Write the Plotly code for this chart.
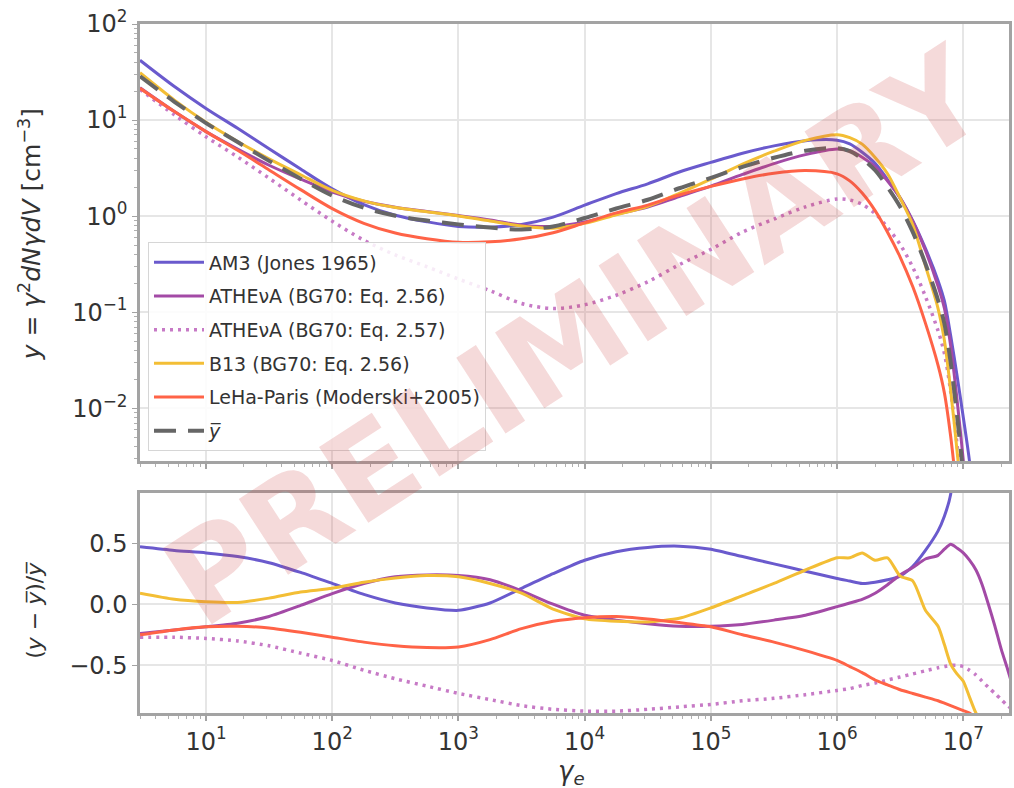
import plotly.graph_objects as go

# Lorentz factor grid shared by every curve
gamma_e = [3.0, 5.62, 10.0, 17.8, 31.6, 56.2, 100.0, 178.0, 316.0, 562.0,
           1.0e3, 1.78e3, 3.16e3, 5.62e3, 1.0e4, 1.78e4, 3.16e4, 5.62e4,
           1.0e5, 1.78e5, 3.16e5, 5.62e5, 1.0e6, 1.26e6, 1.58e6, 2.0e6,
           2.51e6, 3.16e6, 3.98e6, 5.01e6, 6.31e6, 7.08e6, 7.94e6, 8.91e6,
           1.0e7, 1.12e7, 1.26e7, 1.41e7, 1.58e7, 1.78e7, 2.0e7, 2.24e7, 2.51e7]

# mean spectrum  y_bar = gamma^2 dN/dgamma dV  [cm^-3]
y_mean = [28.5, 15.5, 9.3, 5.9, 3.76, 2.45, 1.64, 1.22, 1.01, 0.90,
          0.82, 0.76, 0.725, 0.78, 0.955, 1.2, 1.48, 1.95,
          2.5, 3.25, 4.05, 4.8, 5.1, 4.75, 3.95, 3.0,
          2.0, 1.25, 0.68, 0.32, 0.133, 0.076, 0.030, 0.0085,
          0.0020, 4e-4, 6e-5, 8e-6, 1e-6, 1e-7, 1e-8, 1e-9, 1e-10]

# relative deviations (y - y_bar) / y_bar of each code
rel_am3 = [0.47, 0.44, 0.42, 0.39, 0.34, 0.26, 0.17, 0.08, 0.01, -0.03,
           -0.05, 0.01, 0.13, 0.25, 0.36, 0.43, 0.465, 0.475,
           0.45, 0.39, 0.33, 0.27, 0.21, 0.19, 0.17, 0.18,
           0.20, 0.23, 0.31, 0.44, 0.60, 0.72, 0.90, 1.6,
           3.0, 6.0, 10.0, None, None, None, None, None, None]

rel_atheva_256 = [-0.24, -0.21, -0.185, -0.155, -0.10, -0.01, 0.087, 0.17, 0.225, 0.24,
                  0.235, 0.20, 0.11, 0.0, -0.09, -0.13, -0.16, -0.18,
                  -0.18, -0.165, -0.13, -0.09, -0.02, 0.01, 0.04, 0.09,
                  0.16, 0.24, 0.30, 0.37, 0.40, 0.45, 0.49, 0.46,
                  0.42, 0.36, 0.28, 0.16, 0.0, -0.18, -0.37, -0.53, -0.70]

rel_atheva_257 = [-0.27, -0.27, -0.28, -0.30, -0.34, -0.40, -0.46, -0.54, -0.61, -0.67,
                  -0.73, -0.78, -0.83, -0.86, -0.875, -0.875, -0.86, -0.84,
                  -0.82, -0.79, -0.77, -0.74, -0.705, -0.69, -0.665, -0.645,
                  -0.62, -0.595, -0.57, -0.545, -0.52, -0.51, -0.50, -0.50,
                  -0.51, -0.54, -0.58, -0.63, -0.68, -0.73, -0.78, -0.83, -0.87]

rel_b13 = [0.09, 0.04, 0.02, 0.015, 0.05, 0.10, 0.13, 0.18, 0.215, 0.235,
           0.225, 0.17, 0.09, -0.04, -0.12, -0.14, -0.145, -0.115,
           -0.03, 0.07, 0.17, 0.28, 0.38, 0.38, 0.42, 0.36,
           0.38, 0.23, 0.19, -0.05, -0.18, -0.33, -0.49, -0.57,
           -0.63, -0.76, -0.89, -0.95, -0.98, -0.99, -0.99, -0.99, -0.99]

rel_leha = [-0.25, -0.21, -0.185, -0.18, -0.195, -0.23, -0.27, -0.31, -0.34, -0.355,
            -0.35, -0.29, -0.20, -0.14, -0.11, -0.10, -0.12, -0.15,
            -0.185, -0.25, -0.31, -0.38, -0.46, -0.51, -0.56, -0.62,
            -0.66, -0.70, -0.73, -0.76, -0.79, -0.81, -0.83, -0.85,
            -0.87, -0.89, -0.93, -0.97, -0.99, -0.99, -0.99, -0.99, -0.99]

series_names = ["AM3 (Jones 1965)", "ATHEνA (BG70: Eq. 2.56)", "ATHEνA (BG70: Eq. 2.57)",
                "B13 (BG70: Eq. 2.56)", "LeHa-Paris (Moderski+2005)"]
mean_name = "<i>y̅</i>"

x_ticks = [10, 100, 1e3, 1e4, 1e5, 1e6, 1e7]
x_ticktext = ["10<sup>%d</sup>" % k for k in range(1, 8)]
y_ticks = [1e-2, 1e-1, 1, 10, 100]
y_ticktext = ["10<sup>−2</sup>", "10<sup>−1</sup>", "10<sup>0</sup>", "10<sup>1</sup>", "10<sup>2</sup>"]
r_ticks = [-0.5, 0.0, 0.5]
r_ticktext = ["−0.5", "0.0", "0.5"]

styles = [
    dict(color="#6a5acd", width=3, dash="solid"),
    dict(color="#a34aa6", width=3, dash="solid"),
    dict(color="#c77ac6", width=3.5, dash="3px,5px"),
    dict(color="#f3be35", width=3, dash="solid"),
    dict(color="#ff6347", width=3, dash="solid"),
]
rels = [rel_am3, rel_atheva_256, rel_atheva_257, rel_b13, rel_leha]

fig = go.Figure()

# upper panel: spectra rebuilt from the mean and each deviation
for name, rel, st in zip(series_names, rels, styles):
    y_vals = [None if r is None else m * (1.0 + r) for m, r in zip(y_mean, rel)]
    fig.add_trace(go.Scatter(x=gamma_e, y=y_vals, mode="lines", name=name,
                             legendgroup=name, line=dict(shape="spline", smoothing=0.9, **st),
                             xaxis="x", yaxis="y"))
fig.add_trace(go.Scatter(x=gamma_e, y=y_mean, mode="lines", name=mean_name,
                         legendgroup="mean",
                         line=dict(color="#666666", width=4, dash="22px,12px",
                                   shape="spline", smoothing=0.9),
                         xaxis="x", yaxis="y"))

# lower panel: relative deviations
for name, rel, st in zip(series_names, rels, styles):
    fig.add_trace(go.Scatter(x=gamma_e, y=rel, mode="lines", name=name,
                             legendgroup=name, showlegend=False,
                             line=dict(shape="spline", smoothing=0.6, **st),
                             xaxis="x2", yaxis="y2"))

minor_x = [m * 10 ** k for k in range(0, 8) for m in range(2, 10)]
minor_y = [m * 10.0 ** k for k in range(-3, 2) for m in range(2, 10)]

tick_font = dict(family="DejaVu Sans", size=24, color="#333333")
frame = dict(showline=True, mirror=True, linecolor="#a3a3a3", linewidth=2.5,
             showgrid=True, gridcolor="#e6e6e6", gridwidth=1.5, zeroline=False)

x_common = dict(type="log", range=[0.4771, 7.362], tickvals=x_ticks,
                ticks="outside", ticklen=5, tickcolor="#a3a3a3", tickwidth=1.5,
                minor=dict(tickvals=minor_x, ticks="outside", ticklen=3,
                           tickcolor="#b0b0b0", tickwidth=1, showgrid=False),
                **frame)

fig.update_layout(
    width=1014, height=788,
    margin=dict(l=140, r=2, t=24, b=75),
    paper_bgcolor="white", plot_bgcolor="white",
    showlegend=True,
    xaxis=dict(domain=[0, 1], anchor="y", showticklabels=False, **x_common),
    xaxis2=dict(domain=[0, 1], anchor="y2", matches="x", ticktext=x_ticktext,
                tickfont=tick_font, **x_common),
    yaxis=dict(domain=[0.3657, 1.0], anchor="x", type="log", range=[-2.55, 2.0],
               tickvals=y_ticks, ticktext=y_ticktext, tickfont=tick_font,
               ticks="outside", ticklen=5, tickcolor="#a3a3a3",
               minor=dict(tickvals=minor_y, ticks="outside", ticklen=3,
                          tickcolor="#b0b0b0", showgrid=False),
               **frame),
    yaxis2=dict(domain=[0.0, 0.3193], anchor="x2", range=[-0.89, 0.91],
                tickvals=r_ticks, ticktext=r_ticktext, tickfont=tick_font,
                ticks="outside", ticklen=5, tickcolor="#a3a3a3", **frame),
    legend=dict(x=0.0092, y=0.683, xanchor="left", yanchor="top",
                bgcolor="rgba(255,255,255,0.85)", bordercolor="#d6d6d6", borderwidth=1,
                font=dict(family="DejaVu Sans", size=19, color="#333333"),
                traceorder="grouped", tracegroupgap=6, itemwidth=50),
    annotations=[
        dict(text="<i>y</i> = <i>γ</i><sup>2</sup><i>dNγdV</i> [cm<sup>−3</sup>]",
             xref="paper", yref="paper", x=-0.126, y=0.694, textangle=-90,
             showarrow=False, xanchor="center", yanchor="middle",
             font=dict(family="DejaVu Sans", size=25, color="#333333")),
        dict(text="(<i>y</i> − <i>y̅</i>)/<i>y̅</i>",
             xref="paper", yref="paper", x=-0.121, y=0.1495, textangle=-90,
             showarrow=False, xanchor="center", yanchor="middle",
             font=dict(family="DejaVu Sans", size=22, color="#333333")),
        dict(text="<i>γ</i><sub><i>e</i></sub>",
             xref="paper", yref="paper", x=0.497, y=-0.086,
             showarrow=False, xanchor="center", yanchor="middle",
             font=dict(family="DejaVu Sans", size=26, color="#333333")),
        dict(text="<b>PRELIMINARY</b>",
             xref="paper", yref="paper", x=0.501, y=0.545, textangle=-33,
             showarrow=False, xanchor="center", yanchor="middle",
             font=dict(family="DejaVu Sans", size=124, color="rgba(205,70,70,0.2)")),
    ],
)

fig.write_html("out.html")
